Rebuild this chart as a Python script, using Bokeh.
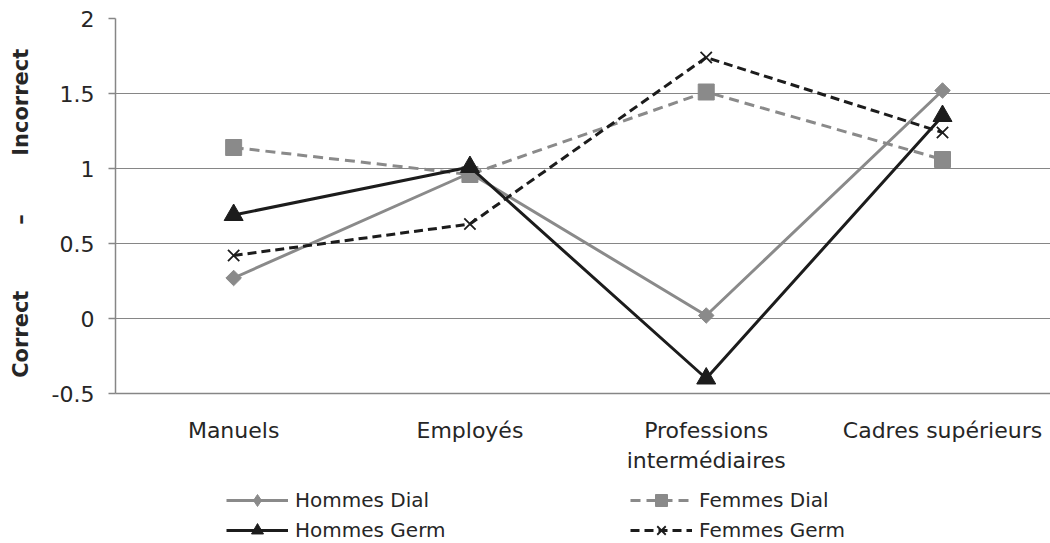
import math
from bokeh.plotting import figure
from bokeh.layouts import column
from bokeh.models import Range1d, FixedTicker, Legend, LegendItem
from bokeh.embed import file_html
from bokeh.resources import INLINE

# Occupational groups on the horizontal axis
categories = ["Manuels", "Employés", "Professions\nintermédiaires", "Cadres supérieurs"]

# Mean scores per group (Correct = low, Incorrect = high)
hommes_dial = [0.27, 0.97, 0.02, 1.52]
femmes_dial = [1.14, 0.96, 1.51, 1.06]
hommes_germ = [0.69, 1.01, -0.40, 1.35]
femmes_germ = [0.42, 0.63, 1.74, 1.24]

y_ticks = [-0.5, 0, 0.5, 1, 1.5, 2]
y_tick_labels = ["-0.5", "0", "0.5", "1", "1.5", "2"]

FONT = "DejaVu Sans"
GREY = "#8a8a8a"
BLACK = "#1c1c1c"
AXIS = "#868686"
TEXT = "#262626"
NBSP = "\u00a0"

# one style per series:
# (label, values, colour, dash, marker, size, angle, legend marker, legend size)
series = [
    ("Hommes Dial", hommes_dial, GREY, "solid", "square", 11, math.pi / 4, "diamond", 13),
    ("Femmes Dial", femmes_dial, GREY, "10 6", "square", 16, 0, "square", 12),
    ("Hommes Germ", hommes_germ, BLACK, "solid", "triangle", 19, 0, "triangle", 13),
    ("Femmes Germ", femmes_germ, BLACK, "9 5", "x", 16, 0, "x", 12),
]

xs = list(range(len(categories)))

p = figure(width=1050, height=475, output_backend="svg", toolbar_location=None,
           x_range=Range1d(-0.5, 3.457), y_range=Range1d(-0.5, 2),
           min_border_left=115, min_border_right=0, min_border_top=18,
           min_border_bottom=60)
p.outline_line_color = None
p.background_fill_color = "white"
p.border_fill_color = "white"

# axes
p.xaxis.ticker = FixedTicker(ticks=xs)
p.xaxis.major_label_overrides = {i: c for i, c in zip(xs, categories)}
p.xaxis.major_tick_line_color = None
p.xaxis.minor_tick_line_color = None
p.xaxis.axis_line_color = AXIS
p.xaxis.axis_line_width = 1.5
p.xaxis.major_label_text_font = FONT
p.xaxis.major_label_text_font_size = "22px"
p.xaxis.major_label_text_color = TEXT
p.xaxis.major_label_standoff = 18

p.yaxis.ticker = FixedTicker(ticks=y_ticks)
p.yaxis.major_label_overrides = {t: l for t, l in zip(y_ticks, y_tick_labels)}
p.yaxis.minor_tick_line_color = None
p.yaxis.axis_line_color = AXIS
p.yaxis.axis_line_width = 1.5
p.yaxis.major_tick_line_color = AXIS
p.yaxis.major_tick_line_width = 1.5
p.yaxis.major_tick_out = 7
p.yaxis.major_tick_in = 0
p.yaxis.major_label_text_font = FONT
p.yaxis.major_label_text_font_size = "22px"
p.yaxis.major_label_text_color = TEXT
p.yaxis.major_label_standoff = 14

# vertical axis title: Correct – Incorrect (non-breaking spaces keep the gaps)
p.yaxis.axis_label = "Correct" + NBSP * 9 + "–" + NBSP * 8 + "Incorrect" + NBSP * 2
p.yaxis.axis_label_text_font = FONT
p.yaxis.axis_label_text_font_size = "21px"
p.yaxis.axis_label_text_font_style = "bold"
p.yaxis.axis_label_text_color = TEXT
p.yaxis.axis_label_standoff = 16

p.xgrid.grid_line_color = None
p.ygrid.ticker = FixedTicker(ticks=y_ticks)
p.ygrid.grid_line_color = AXIS
p.ygrid.grid_line_width = 1.2

# strip below the chart that carries the two-column legend; its ranges keep
# the series themselves out of view so only the legend swatches show
leg = figure(width=1050, height=68, output_backend="svg", toolbar_location=None,
             x_range=Range1d(0, 1), y_range=Range1d(100, 101),
             min_border=0, min_border_left=0, min_border_right=0,
             min_border_top=0, min_border_bottom=0)
leg.axis.visible = False
leg.grid.visible = False
leg.outline_line_color = None
leg.border_fill_color = "white"
leg.background_fill_color = "white"


def draw(fig, vals, col, dash, marker, size, ang):
    lr = fig.line(xs, vals, line_color=col, line_width=3, line_dash=dash)
    if marker == "x":
        mr = fig.scatter(xs, vals, marker=marker, size=size, line_color=col,
                         line_width=1.8)
    else:
        mr = fig.scatter(xs, vals, marker=marker, size=size, angle=ang,
                         fill_color=col, line_color=col)
    return lr, mr


items = []
for name, vals, col, dash, marker, size, ang, lmarker, lsize in series:
    draw(p, vals, col, dash, marker, size, ang)
    lr, mr = draw(leg, vals, col, dash, lmarker, lsize, 0)
    items.append(LegendItem(label=name, renderers=[lr, mr]))


def make_legend(its, x_off):
    return Legend(items=its, location=(x_off, -2), orientation="vertical",
                  glyph_width=62, glyph_height=30, spacing=0, padding=0, margin=0,
                  label_standoff=7, label_text_font=FONT, label_text_font_size="20px",
                  label_text_color=TEXT, border_line_color=None,
                  background_fill_alpha=0)


leg.add_layout(make_legend([items[0], items[2]], 111))
leg.add_layout(make_legend([items[1], items[3]], 515))

layout = column(p, leg, spacing=0)
open("out.html", "w").write(file_html(layout, INLINE))
